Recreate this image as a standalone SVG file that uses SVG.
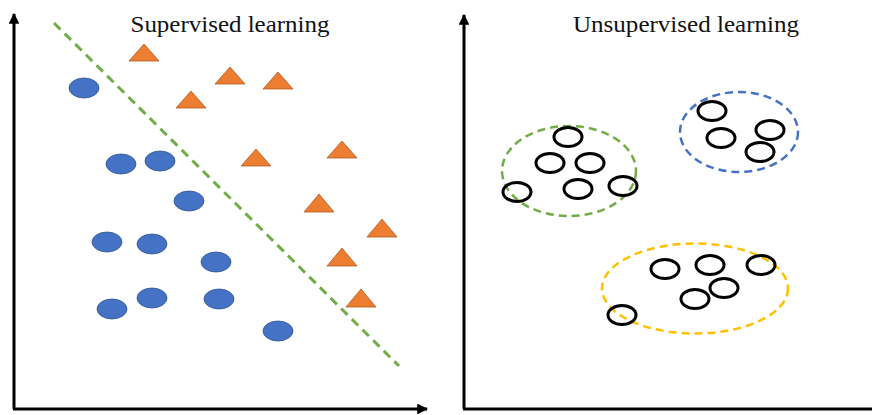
<svg xmlns="http://www.w3.org/2000/svg" width="872" height="415" viewBox="0 0 872 415">
  <style>
    .title { font-family: "Liberation Serif", "DejaVu Serif", serif; font-size: 23px; fill: #111; }
    .axis { stroke: #000; stroke-width: 3; fill: none; }
    .dot { fill: #4472C4; stroke: #2F528F; stroke-width: 0.8; }
    .tri { fill: #ED7D31; stroke: #AE5A21; stroke-width: 0.8; }
    .pt { fill: none; stroke: #000; stroke-width: 3; }
    .split { stroke: #70AD47; stroke-width: 3; stroke-dasharray: 9 6; fill: none; }
    .hull { fill: none; stroke-width: 2.5; stroke-dasharray: 8 5; }
  </style>
  <defs>
    <marker id="arrow" viewBox="0 0 10 10" refX="9" refY="5" markerWidth="3.6" markerHeight="3.6" orient="auto" markerUnits="strokeWidth">
      <path d="M0,0 L10,5 L0,10 Z" fill="#000"/>
    </marker>
  </defs>
  <rect width="872" height="415" fill="#fff"/>

  <!-- titles -->
  <text class="title" x="230" y="32" text-anchor="middle" textLength="199" lengthAdjust="spacingAndGlyphs">Supervised learning</text>
  <text class="title" x="686" y="32" text-anchor="middle" textLength="226" lengthAdjust="spacingAndGlyphs">Unsupervised learning</text>

  <!-- axes and separating line -->
  <g id="connectors">
    <path class="axis" d="M14,409 L14,14" marker-end="url(#arrow)"/>
    <path class="axis" d="M13,409 L427,409" marker-end="url(#arrow)"/>
    <path class="axis" d="M464,409 L464,15" marker-end="url(#arrow)"/>
    <path class="axis" d="M463,409 L872,409"/>
    <path id="boundary" class="split" d="M54,23 L399,366"/>
  </g>

  <!-- supervised: class A (circles) -->
  <g id="classA">
    <ellipse class="dot" cx="84" cy="88" rx="15" ry="10"/>
    <ellipse class="dot" cx="121" cy="164" rx="15" ry="10"/>
    <ellipse class="dot" cx="160" cy="161" rx="15" ry="10"/>
    <ellipse class="dot" cx="189" cy="201" rx="15" ry="10"/>
    <ellipse class="dot" cx="107" cy="242" rx="15" ry="10"/>
    <ellipse class="dot" cx="152" cy="244" rx="15" ry="10"/>
    <ellipse class="dot" cx="216" cy="262" rx="15" ry="10"/>
    <ellipse class="dot" cx="112" cy="309" rx="15" ry="10"/>
    <ellipse class="dot" cx="152" cy="298" rx="15" ry="10"/>
    <ellipse class="dot" cx="219" cy="299" rx="15" ry="10"/>
    <ellipse class="dot" cx="278" cy="331" rx="15" ry="10"/>
  </g>

  <!-- supervised: class B (triangles) -->
  <g id="classB">
    <polygon class="tri" points="144,44 159,61 129,61"/>
    <polygon class="tri" points="230,67 245,84 215,84"/>
    <polygon class="tri" points="278,72 293,89 263,89"/>
    <polygon class="tri" points="191,91 206,108 176,108"/>
    <polygon class="tri" points="256,149 271,166 241,166"/>
    <polygon class="tri" points="342,141 357,158 327,158"/>
    <polygon class="tri" points="319,194 334,212 304,212"/>
    <polygon class="tri" points="382,219 397,237 367,237"/>
    <polygon class="tri" points="342,248 357,266 327,266"/>
    <polygon class="tri" points="361,289 376,307 346,307"/>
  </g>

  <!-- unsupervised: cluster 1 -->
  <g id="cluster1">
    <ellipse class="hull" stroke="#70AD47" cx="569" cy="171" rx="67" ry="45"/>
    <ellipse class="pt" cx="568" cy="137" rx="14" ry="9.5"/>
    <ellipse class="pt" cx="550" cy="163" rx="14" ry="9.5"/>
    <ellipse class="pt" cx="590" cy="163" rx="14" ry="9.5"/>
    <ellipse class="pt" cx="517" cy="192" rx="14" ry="9.5"/>
    <ellipse class="pt" cx="578" cy="189" rx="14" ry="9.5"/>
    <ellipse class="pt" cx="623" cy="186" rx="14" ry="9.5"/>
  </g>

  <!-- unsupervised: cluster 2 -->
  <g id="cluster2">
    <ellipse class="hull" stroke="#4472C4" cx="739" cy="132" rx="59" ry="40"/>
    <ellipse class="pt" cx="712" cy="111" rx="14" ry="9.5"/>
    <ellipse class="pt" cx="721" cy="138" rx="14" ry="9.5"/>
    <ellipse class="pt" cx="770" cy="130" rx="14" ry="9.5"/>
    <ellipse class="pt" cx="760" cy="152" rx="14" ry="9.5"/>
  </g>

  <!-- unsupervised: cluster 3 -->
  <g id="cluster3">
    <ellipse class="hull" stroke="#FFC000" cx="695" cy="288.5" rx="93" ry="45"/>
    <ellipse class="pt" cx="665" cy="269" rx="14" ry="9.5"/>
    <ellipse class="pt" cx="710" cy="265" rx="14" ry="9.5"/>
    <ellipse class="pt" cx="761" cy="265" rx="14" ry="9.5"/>
    <ellipse class="pt" cx="724" cy="288" rx="14" ry="9.5"/>
    <ellipse class="pt" cx="695" cy="299" rx="14" ry="9.5"/>
    <ellipse class="pt" cx="622" cy="315" rx="14" ry="9.5"/>
  </g>
</svg>
